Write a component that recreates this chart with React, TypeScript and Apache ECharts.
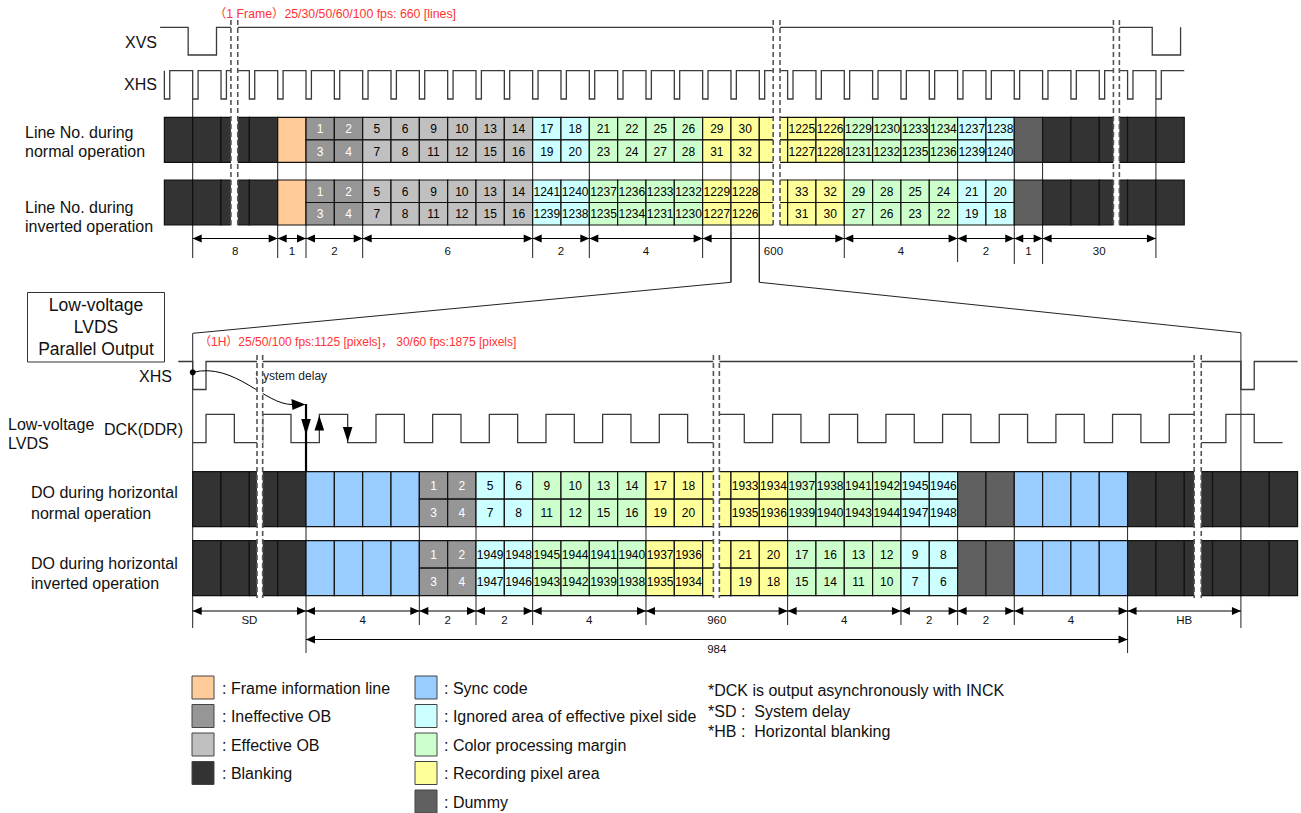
import React, { useEffect, useRef } from "react";
import * as echarts from "echarts";

const W = 1301;
const H = 813;
const CELL_PX = 28.33; // width of one line / pixel cell
const ORIGIN_PX = 192.7; // x of cell 0
const FONT = "'Liberation Sans', Arial, Helvetica, 'Noto Sans CJK JP', sans-serif";
const RED = "#ff3333";
const INK = "#111111";
const WAVE = "#3a3a3a";

// ---------- area kinds ----------
const kindNames = ["blank", "frame", "iob", "eob", "sync", "ign", "cpm", "rec", "dummy"];
const kindColors = ["#333333", "#ffcc99", "#969696", "#c0c0c0", "#99ccff", "#ccffff", "#ccffcc", "#ffff99", "#606060"];
const splitKinds = ["iob", "eob", "ign", "cpm", "rec"];

// ---------- vertical (1 frame) sequence ----------
const topStartCell = -1;
const topKinds = ["blank", "frame", "iob", "eob", "ign", "cpm", "rec", "cpm", "ign", "dummy", "blank"];
const topCounts = [4, 1, 2, 6, 2, 4, 5, 4, 2, 1, 5];
const topFirstLabelCell = 4;
const topNormalUpper = ["1", "2", "5", "6", "9", "10", "13", "14", "17", "18", "21", "22", "25", "26", "29", "30", "", "1225", "1226", "1229", "1230", "1233", "1234", "1237", "1238"];
const topNormalLower = ["3", "4", "7", "8", "11", "12", "15", "16", "19", "20", "23", "24", "27", "28", "31", "32", "", "1227", "1228", "1231", "1232", "1235", "1236", "1239", "1240"];
const topInvUpper = ["1", "2", "5", "6", "9", "10", "13", "14", "1241", "1240", "1237", "1236", "1233", "1232", "1229", "1228", "", "33", "32", "29", "28", "25", "24", "21", "20"];
const topInvLower = ["3", "4", "7", "8", "11", "12", "15", "16", "1239", "1238", "1235", "1234", "1231", "1230", "1227", "1226", "", "31", "30", "27", "26", "23", "22", "19", "18"];

// ---------- horizontal (1H) sequence ----------
const botStartCell = 0;
const botKinds = ["blank", "sync", "iob", "ign", "cpm", "rec", "cpm", "ign", "dummy", "sync", "blank"];
const botCounts = [4, 4, 2, 2, 4, 5, 4, 2, 2, 4, 6];
const botFirstLabelCell = 8;
const botNormalUpper = ["1", "2", "5", "6", "9", "10", "13", "14", "17", "18", "", "1933", "1934", "1937", "1938", "1941", "1942", "1945", "1946"];
const botNormalLower = ["3", "4", "7", "8", "11", "12", "15", "16", "19", "20", "", "1935", "1936", "1939", "1940", "1943", "1944", "1947", "1948"];
const botInvUpper = ["1", "2", "1949", "1948", "1945", "1944", "1941", "1940", "1937", "1936", "", "21", "20", "17", "16", "13", "12", "9", "8"];
const botInvLower = ["3", "4", "1947", "1946", "1943", "1942", "1939", "1938", "1935", "1934", "", "19", "18", "15", "14", "11", "10", "7", "6"];

// ---------- signal edges (in cells) ----------
const xvsEdges = [-0.16, 0.84, 33.87, 34.87];
const xhsTopPulses = [-1, 0, 1, 2, 3, 4, 5, 6, 7, 8, 9, 10, 11, 12, 13, 14, 15, 16, 17, 18, 19, 20, 21, 22, 23, 24, 25, 26, 27, 28, 29, 30, 31, 32, 33, 34];
const xhsPulseWidth = 0.19;
const xhsBottomEdges = [0, 0.47, 37, 37.47];
const dckEdges = [0.47, 1.47, 2.47, 3.47, 4.47, 5.47, 6.47, 7.47, 8.47, 9.47, 10.47, 11.47, 12.47, 13.47, 14.47, 15.47, 16.47, 17.47, 18.47, 19.47, 20.47, 21.47, 22.47, 23.47, 24.47, 25.47, 26.47, 27.47, 28.47, 29.47, 30.47, 31.47, 32.47, 33.47, 34.47, 35.47, 36.47, 37.47];

// ---------- breaks ----------
const topBreaks = [[1.35, 1.59], [20.49, 20.73], [32.5, 32.71]];
const botBreaks = [[2.27, 2.47], [18.38, 18.59], [35.35, 35.6]];

// ---------- dimensions ----------
const topDimBounds = [0, 3, 4, 6, 12, 14, 18, 23, 27, 29, 30, 34];
const topDimLabels = ["8", "1", "2", "6", "2", "4", "600", "4", "2", "1", "30"];
const botDimBounds = [0, 4, 8, 10, 12, 16, 21, 25, 27, 29, 33, 37];
const botDimLabels = ["SD", "4", "2", "2", "4", "960", "4", "2", "2", "4", "HB"];
const totalDim = [4, 33];
const totalDimLabel = "984";

// ---------- legend ----------
const legendCol1Kinds = ["frame", "iob", "eob", "blank"];
const legendCol1Texts = [": Frame information line", ": Ineffective OB", ": Effective OB", ": Blanking"];
const legendCol2Kinds = ["sync", "ign", "cpm", "rec", "dummy"];
const legendCol2Texts = [": Sync code", ": Ignored area of effective pixel side", ": Color processing margin", ": Recording pixel area", ": Dummy"];
const notes = ["*DCK is output asynchronously with INCK", "*SD :\u00a0\u00a0System delay", "*HB :\u00a0\u00a0Horizontal blanking"];

// ---------- layout (y bands) ----------
const Y = {
  xvsHigh: 27.3, xvsLow: 55,
  xhsTopHigh: 70.7, xhsTopLow: 99,
  topNormal: [117.3, 162.3], topInv: [180, 225],
  topDim: 238.5,
  xhsBotHigh: 361.5, xhsBotLow: 389.5,
  dckHigh: 414.3, dckLow: 442.7,
  botNormal: [471.7, 526.7], botInv: [540.7, 595.7],
  botDim: 611, totalDim: 639.5,
};

type Cell = { value: number[]; kind: string; label: string };

function buildCells(start: number, kinds: string[], counts: number[], firstLabel: number, upper: string[], lower: string[], band: number[]): Cell[] {
  const out: Cell[] = [];
  let x = start;
  const [y0, y1] = band;
  const mid = (y0 + y1) / 2;
  kinds.forEach((k, si) => {
    for (let j = 0; j < counts[si]; j++) {
      if (splitKinds.includes(k)) {
        const idx = x - firstLabel;
        out.push({ value: [x, x + 1, y0, mid], kind: k, label: upper[idx] ?? "" });
        out.push({ value: [x, x + 1, mid, y1], kind: k, label: lower[idx] ?? "" });
      } else {
        out.push({ value: [x, x + 1, y0, y1], kind: k, label: "" });
      }
      x++;
    }
  });
  return out;
}

const cells: Cell[] = [
  ...buildCells(topStartCell, topKinds, topCounts, topFirstLabelCell, topNormalUpper, topNormalLower, Y.topNormal),
  ...buildCells(topStartCell, topKinds, topCounts, topFirstLabelCell, topInvUpper, topInvLower, Y.topInv),
  ...buildCells(botStartCell, botKinds, botCounts, botFirstLabelCell, botNormalUpper, botNormalLower, Y.botNormal),
  ...buildCells(botStartCell, botKinds, botCounts, botFirstLabelCell, botInvUpper, botInvLower, Y.botInv),
];

type Sig = { start: number; end: number; startHigh: boolean; edges: number[]; yHigh: number; yLow: number };
const signals: Sig[] = [
  { start: -1.15, end: 34.87, startHigh: true, edges: xvsEdges, yHigh: Y.xvsHigh, yLow: Y.xvsLow },
  { start: -1, end: 35, startHigh: true, edges: xhsTopPulses.flatMap((p) => [p, p + xhsPulseWidth]), yHigh: Y.xhsTopHigh, yLow: Y.xhsTopLow },
  { start: -0.51, end: 39, startHigh: true, edges: xhsBottomEdges, yHigh: Y.xhsBotHigh, yLow: Y.xhsBotLow },
  { start: 0, end: 38.47, startHigh: false, edges: dckEdges, yHigh: Y.dckHigh, yLow: Y.dckLow },
];

function wavePoints(s: Sig): number[][] {
  let hi = s.startHigh;
  const lv = () => (hi ? s.yHigh : s.yLow);
  const pts: number[][] = [[s.start, lv()]];
  for (const e of s.edges) {
    pts.push([e, lv()]);
    hi = !hi;
    pts.push([e, lv()]);
  }
  pts.push([s.end, lv()]);
  return pts;
}

const breaks = [
  ...topBreaks.map((b) => [b[0], b[1], 20, 227]),
  ...botBreaks.map((b) => [b[0], b[1], 355, 598]),
];

type Dim = { value: number[]; label: string };
const dims: Dim[] = [
  ...topDimLabels.map((l, i) => ({ value: [topDimBounds[i], topDimBounds[i + 1], Y.topDim, 12], label: l })),
  ...botDimLabels.map((l, i) => ({ value: [botDimBounds[i], botDimBounds[i + 1], Y.botDim, 9], label: l })),
  { value: [totalDim[0], totalDim[1], Y.totalDim, 9], label: totalDimLabel },
];

// extension lines [x, y0, y1]
const extLines = [
  [0, 99, 258], [34, 99, 258],
  [3, 162, 258], [4, 162, 258], [6, 162, 258], [12, 162, 258], [14, 162, 258], [18, 162, 258],
  [19, 162, 282.3], [20, 162, 282.3],
  [23, 162, 258], [27, 162, 262], [29, 162, 264], [30, 162, 264],
  [4, 470, 653], [8, 527, 625], [10, 527, 625], [12, 527, 625], [16, 527, 625],
  [21, 527, 625], [25, 527, 625], [27, 527, 625], [29, 527, 625], [33, 527, 653],
];

// magnifier lines
const zoomLines = [
  [[19, 225], [19, 282.3], [0, 333.3], [0, 628]],
  [[20, 225], [20, 282.3], [37, 332.7], [37, 628]],
];

// DCK edge arrows [x, tipY, baseY]
const edgeArrows = [[4, 435, 419], [4.47, 415.5, 430.5], [5.47, 442, 427]];

function textStyle(text: string, size: number, fill: string, align = "left", vAlign = "middle") {
  return {
    text,
    fill,
    fontSize: size,
    fontFamily: FONT,
    align,
    verticalAlign: vAlign,
    textAlign: align,
    textVerticalAlign: vAlign,
  } as any;
}

function gText(text: string, x: number, y: number, size: number, align = "left", fill = INK) {
  return { type: "text", x, y, silent: true, style: textStyle(text, size, fill, align) };
}

function buildOption(): any {
  const kc = (k: string) => kindColors[kindNames.indexOf(k)];

  const base = { type: "custom", coordinateSystem: "cartesian2d", xAxisIndex: 0, yAxisIndex: 0, silent: true, clip: false };

  const extSeries = {
    ...base,
    z: 1,
    data: extLines,
    renderItem: (_p: any, api: any) => {
      const a = api.coord([api.value(0), api.value(1)]);
      const b = api.coord([api.value(0), api.value(2)]);
      return { type: "line", shape: { x1: a[0], y1: a[1], x2: b[0], y2: b[1] }, style: { stroke: "#222", lineWidth: 1 } };
    },
  };

  const zoomSeries = {
    ...base,
    z: 1,
    data: zoomLines.map((_, i) => [i]),
    renderItem: (p: any, api: any) => {
      const pts = zoomLines[p.dataIndex].map((q) => api.coord(q));
      return { type: "polyline", shape: { points: pts }, style: { stroke: "#222", lineWidth: 1, fill: null } };
    },
  };

  const cellSeries = {
    ...base,
    z: 2,
    data: cells.map((c) => c.value),
    renderItem: (p: any, api: any) => {
      const c = cells[p.dataIndex];
      const a = api.coord([api.value(0), api.value(2)]);
      const b = api.coord([api.value(1), api.value(3)]);
      const children: any[] = [
        {
          type: "rect",
          shape: { x: a[0], y: a[1], width: b[0] - a[0], height: b[1] - a[1] },
          style: { fill: kc(c.kind), stroke: "#111", lineWidth: 1.2 },
        },
      ];
      if (c.label) {
        children.push({
          type: "text",
          x: (a[0] + b[0]) / 2,
          y: (a[1] + b[1]) / 2 + 0.5,
          style: textStyle(c.label, 12, c.kind === "iob" ? "#ffffff" : "#000000", "center"),
        });
      }
      return { type: "group", children };
    },
  };

  const signalSeries = {
    ...base,
    z: 3,
    data: signals.map((s) => [s.start, s.end]),
    renderItem: (p: any, api: any) => {
      const pts = wavePoints(signals[p.dataIndex]).map((q) => api.coord(q));
      return { type: "polyline", shape: { points: pts }, style: { stroke: WAVE, lineWidth: 1.3, fill: null } };
    },
  };

  const annotSeries = {
    ...base,
    z: 3,
    data: [[0, 372.3]],
    renderItem: (_p: any, api: any) => {
      const dot = api.coord([0, 372.3]);
      const c1 = api.coord([1.49, 362]);
      const c2 = api.coord([2.55, 405]);
      const end = api.coord([3.52, 404.5]);
      const tip = api.coord([3.98, 404.5]);
      const thickTop = api.coord([4, 404]);
      const thickBot = api.coord([4, 471]);
      const txt = api.coord([2.2, 375.5]);
      const children: any[] = [
        { type: "circle", shape: { cx: dot[0], cy: dot[1], r: 3 }, style: { fill: "#000" } },
        {
          type: "bezierCurve",
          shape: { x1: dot[0], y1: dot[1], cpx1: c1[0], cpy1: c1[1], cpx2: c2[0], cpy2: c2[1], x2: end[0], y2: end[1] },
          style: { stroke: "#000", lineWidth: 1, fill: null },
        },
        {
          type: "polygon",
          shape: { points: [[tip[0], tip[1]], [end[0] - 1, end[1] - 5.5], [end[0], end[1] + 5.5]] },
          style: { fill: "#000" },
        },
        { type: "line", shape: { x1: thickTop[0], y1: thickTop[1], x2: thickBot[0], y2: thickBot[1] }, style: { stroke: "#000", lineWidth: 2.2 } },
        { type: "text", x: txt[0], y: txt[1], style: textStyle("System delay", 12, "#222", "left") },
      ];
      edgeArrows.forEach((e) => {
        const t = api.coord([e[0], e[1]]);
        const b = api.coord([e[0], e[2]]);
        children.push({
          type: "polygon",
          shape: { points: [[t[0], t[1]], [b[0] - 4.8, b[1]], [b[0] + 4.8, b[1]]] },
          style: { fill: "#000" },
        });
      });
      return { type: "group", children };
    },
  };

  const breakSeries = {
    ...base,
    z: 4,
    data: breaks,
    renderItem: (_p: any, api: any) => {
      const a = api.coord([api.value(0), api.value(2)]);
      const b = api.coord([api.value(1), api.value(3)]);
      const dash = { stroke: "#555", lineWidth: 1.6, lineDash: [5, 3] };
      return {
        type: "group",
        children: [
          { type: "rect", shape: { x: a[0], y: a[1], width: b[0] - a[0], height: b[1] - a[1] }, style: { fill: "#ffffff" } },
          { type: "line", shape: { x1: a[0], y1: a[1], x2: a[0], y2: b[1] }, style: dash },
          { type: "line", shape: { x1: b[0], y1: a[1], x2: b[0], y2: b[1] }, style: dash },
        ],
      };
    },
  };

  const dimSeries = {
    ...base,
    z: 5,
    data: dims.map((d) => d.value),
    renderItem: (p: any, api: any) => {
      const d = dims[p.dataIndex];
      const a = api.coord([api.value(0), api.value(2)]);
      const b = api.coord([api.value(1), api.value(2)]);
      const dy = api.value(3);
      const L = 9;
      const hh = 4;
      return {
        type: "group",
        children: [
          { type: "line", shape: { x1: a[0], y1: a[1], x2: b[0], y2: b[1] }, style: { stroke: "#000", lineWidth: 1 } },
          { type: "polygon", shape: { points: [[a[0], a[1]], [a[0] + L, a[1] - hh], [a[0] + L, a[1] + hh]] }, style: { fill: "#000" } },
          { type: "polygon", shape: { points: [[b[0], b[1]], [b[0] - L, b[1] - hh], [b[0] - L, b[1] + hh]] }, style: { fill: "#000" } },
          { type: "text", x: (a[0] + b[0]) / 2, y: a[1] + dy, style: textStyle(d.label, 11.5, "#111", "center") },
        ],
      };
    },
  };

  // ----- static texts and legend -----
  const graphics: any[] = [
    gText("（1 Frame）25/30/50/60/100 fps: 660 [lines]", 214, 14, 12.3, "left", RED),
    gText("（1H）25/50/100 fps:1125 [pixels]， 30/60 fps:1875 [pixels]", 199, 342, 12, "left", RED),
    gText("XVS", 157, 42, 16, "right"),
    gText("XHS", 157, 84, 16, "right"),
    gText("Line No. during", 25, 132.3, 16),
    gText("normal operation", 25, 151, 16),
    gText("Line No. during", 25, 207, 16),
    gText("inverted operation", 25, 226, 16),
    { type: "rect", silent: true, shape: { x: 27.5, y: 292.5, width: 137, height: 69.5 }, style: { fill: "#fff", stroke: "#333", lineWidth: 1 } },
    gText("Low-voltage", 96, 305, 17.5, "center"),
    gText("LVDS", 96, 327, 17.5, "center"),
    gText("Parallel Output", 96, 348.5, 17.5, "center"),
    gText("XHS", 172, 376.5, 16, "right"),
    gText("DCK(DDR)", 183, 429.5, 16, "right"),
    gText("Low-voltage", 8, 424, 16),
    gText("LVDS", 8, 443.5, 16),
    gText("DO during horizontal", 31, 492.5, 16),
    gText("normal operation", 31, 513, 16),
    gText("DO during horizontal", 31, 563, 16),
    gText("inverted operation", 31, 583.5, 16),
  ];
  const legendTops = [676, 704.5, 733, 761.5, 790];
  const addLegend = (kinds: string[], texts: string[], sx: number, tx: number) => {
    kinds.forEach((k, i) => {
      graphics.push({
        type: "rect",
        silent: true,
        shape: { x: sx, y: legendTops[i], width: 22, height: 23 },
        style: { fill: kc(k), stroke: "#444", lineWidth: 1 },
      });
      graphics.push(gText(texts[i], tx, legendTops[i] + 12, 16));
    });
  };
  addLegend(legendCol1Kinds, legendCol1Texts, 192, 222);
  addLegend(legendCol2Kinds, legendCol2Texts, 415, 444);
  const noteYs = [690.5, 711, 731.5];
  notes.forEach((n, i) => graphics.push(gText(n, 708, noteYs[i], 16)));

  return {
    animation: false,
    backgroundColor: "#ffffff",
    grid: { left: 0, top: 0, width: W, height: H, containLabel: false },
    xAxis: {
      type: "value",
      min: -ORIGIN_PX / CELL_PX,
      max: (W - ORIGIN_PX) / CELL_PX,
      show: false,
    },
    yAxis: { type: "value", min: 0, max: H, inverse: true, show: false },
    graphic: { elements: graphics },
    series: [extSeries, zoomSeries, cellSeries, signalSeries, annotSeries, breakSeries, dimSeries],
  };
}

export default function App() {
  const ref = useRef<HTMLDivElement>(null);
  useEffect(() => {
    const el = ref.current;
    if (!el) return;
    const chart = echarts.init(el, undefined, { renderer: "svg" });
    chart.setOption(buildOption());
    return () => chart.dispose();
  }, []);
  return (
    <div
      ref={ref}
      style={{ position: "absolute", left: 0, top: 0, width: W, height: H, background: "#fff" }}
    />
  );
}
